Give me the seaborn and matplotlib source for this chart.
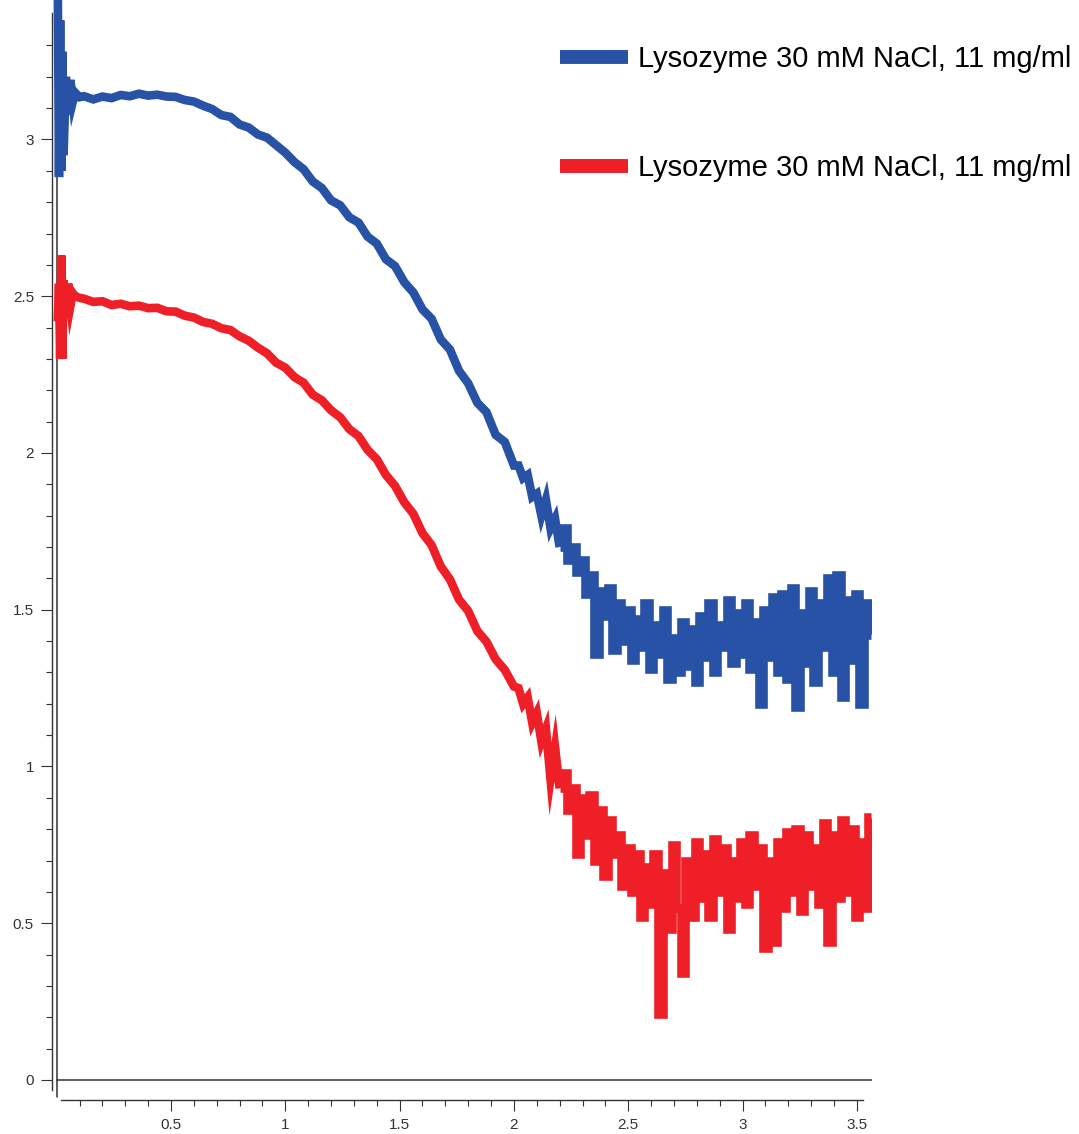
import numpy as np
import matplotlib
matplotlib.use("Agg")
import matplotlib.pyplot as plt
import seaborn as sns

# ---------------- data ----------------
q_start = [0.005, 0.01, 0.015, 0.02, 0.025, 0.03, 0.04, 0.05, 0.06, 0.07, 0.08, 0.10]
q_mid = [0.12, 0.16, 0.20, 0.24, 0.28, 0.32, 0.36, 0.40, 0.44, 0.48, 0.52, 0.56,
         0.60, 0.64, 0.68, 0.72, 0.76, 0.80, 0.84, 0.88, 0.92, 0.96, 1.00, 1.04,
         1.08, 1.12, 1.16, 1.20, 1.24, 1.28, 1.32, 1.36, 1.40, 1.44, 1.48, 1.52,
         1.56, 1.60, 1.64, 1.68, 1.72, 1.76, 1.80, 1.84, 1.88, 1.92, 1.96, 2.00]
q_tail = [2.02, 2.04, 2.06, 2.08, 2.10, 2.12, 2.14, 2.16, 2.18, 2.20, 2.22, 2.24, 2.26,
          2.28, 2.30, 2.32, 2.34, 2.36, 2.38, 2.40, 2.42, 2.44, 2.46, 2.48, 2.50, 2.52,
          2.54, 2.56, 2.58, 2.60, 2.62, 2.64, 2.66, 2.68, 2.70, 2.72, 2.74, 2.76, 2.78,
          2.80, 2.82, 2.84, 2.86, 2.88, 2.90, 2.92, 2.94, 2.96, 2.98, 3.00, 3.02, 3.04,
          3.06, 3.08, 3.10, 3.12, 3.14, 3.16, 3.18, 3.20, 3.22, 3.24, 3.26, 3.28, 3.30,
          3.32, 3.34, 3.36, 3.38, 3.40, 3.42, 3.44, 3.46, 3.48, 3.50, 3.52, 3.54, 3.56]

blue_start = [3.46, 2.88, 3.38, 2.90, 3.28, 2.95, 3.20, 3.08, 3.19, 3.12, 3.15, 3.135]
blue_mid = [3.138, 3.128, 3.137, 3.132, 3.142, 3.138, 3.146, 3.140, 3.143, 3.137, 3.136, 3.126,
            3.121, 3.108, 3.097, 3.078, 3.072, 3.048, 3.038, 3.016, 3.006, 2.982, 2.958, 2.928,
            2.905, 2.866, 2.845, 2.806, 2.790, 2.752, 2.735, 2.690, 2.668, 2.618, 2.596, 2.545,
            2.512, 2.458, 2.428, 2.362, 2.330, 2.262, 2.222, 2.160, 2.130, 2.058, 2.035, 1.960]
blue_tail = [1.96, 1.92, 1.93, 1.86, 1.87, 1.80, 1.85, 1.76, 1.79, 1.70, 1.76, 1.66, 1.70,
             1.62, 1.66, 1.55, 1.61, 1.36, 1.56, 1.48, 1.57, 1.37, 1.52, 1.40, 1.50, 1.34,
             1.47, 1.38, 1.52, 1.31, 1.45, 1.36, 1.50, 1.28, 1.41, 1.30, 1.46, 1.32, 1.44,
             1.27, 1.48, 1.35, 1.52, 1.30, 1.45, 1.38, 1.53, 1.33, 1.49, 1.36, 1.52, 1.31,
             1.46, 1.20, 1.50, 1.35, 1.54, 1.30, 1.55, 1.28, 1.57, 1.19, 1.49, 1.33, 1.56,
             1.27, 1.52, 1.38, 1.60, 1.30, 1.61, 1.22, 1.53, 1.34, 1.55, 1.20, 1.52, 1.42]

red_start = [2.42, 2.54, 2.30, 2.63, 2.30, 2.55, 2.46, 2.54, 2.47, 2.51, 2.50, 2.495]
red_mid = [2.492, 2.482, 2.484, 2.472, 2.476, 2.468, 2.470, 2.462, 2.463, 2.452, 2.451, 2.438,
           2.432, 2.418, 2.412, 2.398, 2.392, 2.372, 2.358, 2.336, 2.318, 2.288, 2.272, 2.242,
           2.224, 2.186, 2.168, 2.136, 2.114, 2.076, 2.054, 2.010, 1.980, 1.930, 1.895, 1.843,
           1.806, 1.744, 1.706, 1.638, 1.597, 1.532, 1.496, 1.432, 1.398, 1.342, 1.308, 1.255]
red_tail = [1.25, 1.20, 1.22, 1.14, 1.17, 1.08, 1.12, 0.96, 1.06, 0.93, 0.98, 0.86, 0.93,
            0.72, 0.90, 0.78, 0.91, 0.70, 0.86, 0.65, 0.83, 0.72, 0.78, 0.62, 0.74, 0.60,
            0.72, 0.52, 0.68, 0.56, 0.72, 0.21, 0.66, 0.48, 0.75, 0.55, 0.34, 0.70, 0.52,
            0.76, 0.58, 0.72, 0.52, 0.77, 0.60, 0.74, 0.48, 0.70, 0.58, 0.76, 0.56, 0.78,
            0.62, 0.74, 0.42, 0.70, 0.44, 0.76, 0.55, 0.79, 0.60, 0.80, 0.54, 0.78, 0.62,
            0.74, 0.56, 0.82, 0.44, 0.78, 0.58, 0.83, 0.60, 0.80, 0.52, 0.76, 0.55, 0.84]

series_labels = ["Lysozyme 30 mM NaCl, 11 mg/ml", "Lysozyme 30 mM NaCl, 11 mg/ml"]
x_ticks = [0.5, 1.0, 1.5, 2.0, 2.5, 3.0, 3.5]
x_ticklabels = ["0.5", "1", "1.5", "2", "2.5", "3", "3.5"]
y_ticks = [0.0, 0.5, 1.0, 1.5, 2.0, 2.5, 3.0]
y_ticklabels = ["0", "0.5", "1", "1.5", "2", "2.5", "3"]

# low-q part (smoother) and high-q part (noisy), sharing the q = 2.20 point
SPLIT = 10
q_low = np.array(q_start + q_mid + q_tail[:SPLIT])
q_high = np.array(q_tail[SPLIT - 1:])
blue_low = np.array(blue_start + blue_mid + blue_tail[:SPLIT])
blue_high = np.array(blue_tail[SPLIT - 1:])
red_low = np.array(red_start + red_mid + red_tail[:SPLIT])
red_high = np.array(red_tail[SPLIT - 1:])

# ---------------- style ----------------
sns.set_theme(style="white")
plt.rcParams['font.family'] = ['Liberation Sans', 'DejaVu Sans']

BLUE = "#2752A5"
RED = "#EE1F26"
AX = "#333333"
LW = 6.2

fig = plt.figure(figsize=(10.79, 11.34), dpi=100)
ax = fig.add_axes([52 / 1079, 34 / 1134, (871.7 - 52) / 1079, 1 - 34 / 1134])

sns.lineplot(x=q_low, y=blue_low, ax=ax, color=BLUE, lw=LW,
             estimator=None, sort=False, label=series_labels[0])
sns.lineplot(x=q_high, y=blue_high, ax=ax, color=BLUE, lw=LW, drawstyle="steps-mid",
             estimator=None, sort=False)
sns.lineplot(x=q_low, y=red_low, ax=ax, color=RED, lw=LW,
             estimator=None, sort=False, label=series_labels[1])
sns.lineplot(x=q_high, y=red_high, ax=ax, color=RED, lw=LW, drawstyle="steps-mid",
             estimator=None, sort=False)
for ln in ax.get_lines():
    ln.set_solid_capstyle("butt")
    ln.set_solid_joinstyle("miter")

xlo, xhi = -0.0206, 3.565
ylo, yhi = -0.064, 3.445
ax.set_xlim(xlo, xhi)
ax.set_ylim(ylo, yhi)

# zero lines
ax.axhline(0, xmin=(0 - xlo) / (xhi - xlo), xmax=1, color=AX, lw=1.1, zorder=1)
ax.axvline(0, ymin=(-0.054 - ylo) / (yhi - ylo), ymax=(3.403 - ylo) / (yhi - ylo),
           color=AX, lw=1.1, zorder=1)

# spines
for s in ["top", "right"]:
    ax.spines[s].set_visible(False)
ax.spines["left"].set_bounds(-0.032, 3.403)
ax.spines["bottom"].set_bounds(0.019, 3.527)
for s in ["left", "bottom"]:
    ax.spines[s].set_color(AX)
    ax.spines[s].set_linewidth(1.0)

ax.set_xticks(x_ticks)
ax.set_xticklabels(x_ticklabels)
ax.set_yticks(y_ticks)
ax.set_yticklabels(y_ticklabels)
ax.set_xticks([round(0.1 * i, 1) for i in range(1, 36)], minor=True)
ax.set_yticks([round(0.1 * i, 1) for i in range(1, 34)], minor=True)
ax.tick_params(which="major", direction="out", length=8, width=0.8, color=AX,
               labelsize=11, labelcolor=AX, pad=5, left=True, bottom=True)
ax.tick_params(which="minor", direction="out", length=4.6, width=0.8, color=AX,
               left=True, bottom=True)
ax.set_xlabel("")
ax.set_ylabel("")
ax.grid(False)

# legend
ax.get_legend().remove()
lines = ax.get_lines()
handles = [lines[0], lines[2]]
leg = fig.legend(handles, series_labels, loc="upper left",
                 bbox_to_anchor=(560 / 1079, 1 - 45 / 1134), bbox_transform=fig.transFigure,
                 frameon=False, borderpad=0, borderaxespad=0, fontsize=21,
                 handlelength=2.33, handletextpad=0.34, labelspacing=2.79)
for ln in leg.get_lines():
    ln.set_linewidth(10)
    ln.set_solid_capstyle("butt")
for t in leg.get_texts():
    t.set_color("black")

fig.savefig("out.png", dpi=100)
